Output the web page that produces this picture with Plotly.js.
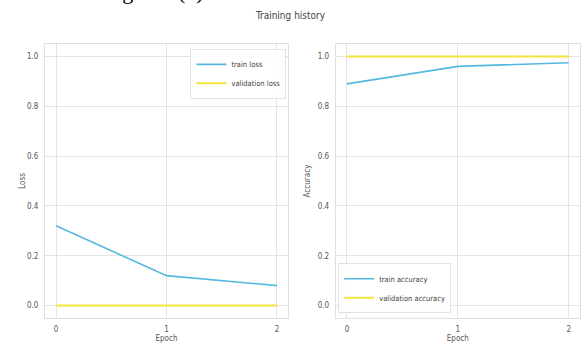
<!DOCTYPE html>
<html><head><meta charset="utf-8">
<script src="https://cdn.plot.ly/plotly-3.0.1.min.js"></script>
<style>body{margin:0;background:#fff}#c{width:581px;height:354px}</style>
</head><body><div id="c"></div>
<script>
const epochs = [0, 1, 2];
const trainLoss = [0.32, 0.12, 0.08];
const valLoss = [0.0, 0.0, 0.0];
const trainAcc = [0.89, 0.96, 0.975];
const valAcc = [1.0, 1.0, 1.0];
const yTicks = [0, 0.2, 0.4, 0.6, 0.8, 1.0];
const blue = '#55b8e0', yellow = '#f2e43c';
const F = '"Liberation Sans Narrow", "DejaVu Sans Condensed", Arial, sans-serif';
const traces = [
 {x: epochs, y: trainLoss, name: 'train loss', mode: 'lines', line: {color: blue, width: 1.6}, xaxis: 'x', yaxis: 'y', legend: 'legend'},
 {x: epochs, y: valLoss, name: 'validation loss', mode: 'lines', line: {color: yellow, width: 2}, xaxis: 'x', yaxis: 'y', legend: 'legend'},
 {x: epochs, y: trainAcc, name: 'train accuracy', mode: 'lines', line: {color: blue, width: 1.6}, xaxis: 'x2', yaxis: 'y2', legend: 'legend2'},
 {x: epochs, y: valAcc, name: 'validation accuracy', mode: 'lines', line: {color: yellow, width: 2}, xaxis: 'x2', yaxis: 'y2', legend: 'legend2'}
];
const ax = (dom, anchor, title) => ({domain: dom, anchor: anchor, range: [-0.1, 2.1], tickvals: epochs, ticktext: epochs.map(String),
  showgrid: true, gridcolor: '#e4e4e4', gridwidth: 1, zeroline: false, showline: true, linecolor: '#e0e0e0', mirror: true,
  ticks: '', ticklabelstandoff: 3, tickfont: {size: 8, color: '#555', family: F},
  title: {text: title, font: {size: 8, color: '#555', family: F}, standoff: 0}});
const ay = (dom, anchor, title, so) => ({domain: dom, anchor: anchor, range: [-0.05, 1.05], tickvals: yTicks, tickformat: '.1f',
  showgrid: true, gridcolor: '#e4e4e4', gridwidth: 1, zeroline: false, showline: true, linecolor: '#e0e0e0', mirror: true,
  ticks: '', ticklabelstandoff: 4, tickfont: {size: 8, color: '#555', family: F},
  title: {text: title, font: {size: 8, color: '#555', family: F}, standoff: so}});
const legStyle = {bgcolor: 'rgba(255,255,255,0.9)', bordercolor: '#e2e2e2', borderwidth: 1, font: {size: 7.5, color: '#444', family: F}, itemwidth: 30, tracegroupgap: 0};
const layout = {
  width: 581, height: 354, margin: {l: 0, r: 0, t: 0, b: 0}, paper_bgcolor: '#fff', plot_bgcolor: '#fff',
  showlegend: true,
  title: {text: 'Training history', x: 0.5, xanchor: 'center', y: 0.955, yanchor: 'middle', font: {size: 10, color: '#444', family: F}},
  xaxis: ax([0.0775, 0.4957], 'y', 'Epoch'),
  yaxis: ay([0.1017, 0.8757], 'x', 'Loss', 0),
  xaxis2: ax([0.578, 0.998], 'y2', 'Epoch'),
  yaxis2: ay([0.1017, 0.8757], 'x2', 'Accuracy', -8),
  legend: Object.assign({x: 0.493, y: 0.862, xanchor: 'right', yanchor: 'top'}, legStyle),
  legend2: Object.assign({x: 0.582, y: 0.115, xanchor: 'left', yanchor: 'bottom'}, legStyle),
  annotations: [{text: 'Figure 4(b)', xref: 'paper', yref: 'paper', x: 102 / 581, y: 1 + 23 / 354, xanchor: 'left', yanchor: 'top',
    showarrow: false, font: {size: 22, color: '#000', family: '"Liberation Serif", "Times New Roman", serif'}}]
};
Plotly.newPlot('c', traces, layout, {displayModeBar: false, staticPlot: true});
</script></body></html>
